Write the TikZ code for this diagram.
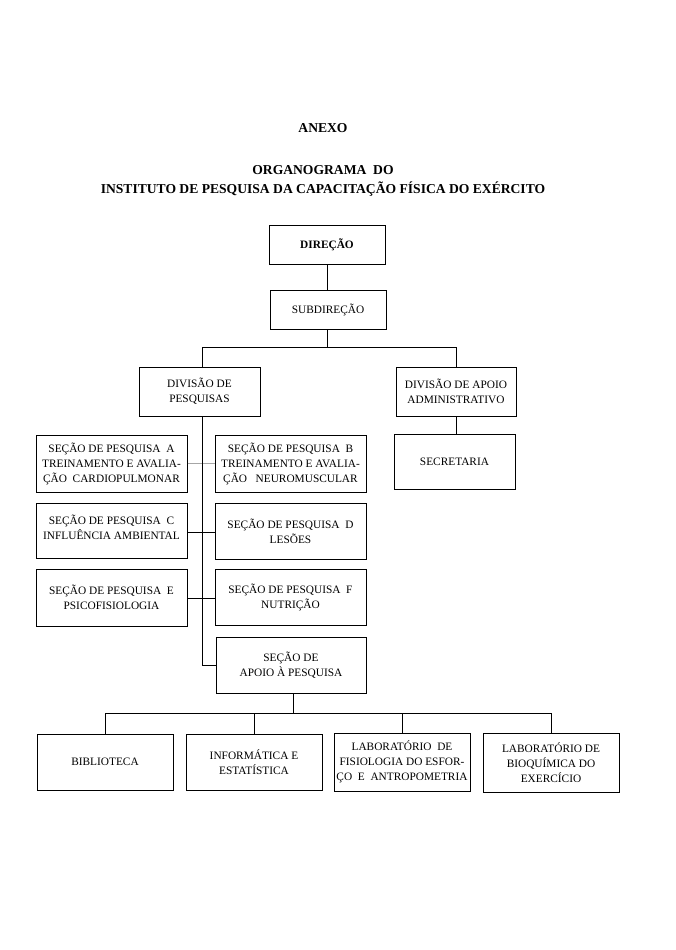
\documentclass[tikz,border=0pt]{standalone}
\usepackage{fontspec}
\setmainfont{Liberation Serif}
\begin{document}
\begin{tikzpicture}[x=1pt,y=-1pt,
  box/.style={draw, line width=1pt, inner sep=1pt, align=center,
    font=\fontsize{11.34}{15}\selectfont},
  txt/.style={inner sep=0pt, align=center, font=\fontsize{11.34}{15}\selectfont},
  ttl/.style={font=\bfseries\fontsize{13.6}{19}\selectfont, align=center, inner sep=0pt},
  conn/.style={line width=1pt}]
\useasboundingbox (0,0) rectangle (675,950);
\fill[white] (0,0) rectangle (675,950);

\node[ttl] (anexo) at (323,128) {ANEXO};
\node[ttl] (titulo) at (323,180.5) {ORGANOGRAMA\ \ DO\\INSTITUTO DE PESQUISA DA CAPACITAÇÃO FÍSICA DO EXÉRCITO};

\node[box, minimum width=116, minimum height=39, font=\bfseries\fontsize{11.34}{15}\selectfont] (dir) at (327,244.5) {DIREÇÃO};
\node[box, minimum width=116, minimum height=39] (sub) at (328,309.5) {SUBDIREÇÃO};
\node[box, minimum width=121, minimum height=49] (divp) at (199.5,391.5) {DIVISÃO DE\\PESQUISAS};
\node[box, minimum width=120, minimum height=49] (diva) at (456,391.5) {DIVISÃO DE APOIO\\ADMINISTRATIVO};
\node[box, minimum width=121, minimum height=55] (sec) at (454.5,461.5) {SECRETARIA};

\node[box, minimum width=151, minimum height=57] (A) at (111.5,463.5) {SEÇÃO DE PESQUISA\ \ A\\TREINAMENTO E AVALIA-\\ÇÃO\ \ CARDIOPULMONAR};
\node[box, minimum width=151, minimum height=57] (B) at (290.5,463.5) {SEÇÃO DE PESQUISA\ \ B\\TREINAMENTO E AVALIA-\\ÇÃO\ \ \ NEUROMUSCULAR};
\node[box, minimum width=151, minimum height=55] (C) at (111.5,530.5) {};
\node[txt] (Ct) at (111.5,527.5) {SEÇÃO DE PESQUISA\ \ C\\INFLUÊNCIA AMBIENTAL};
\node[box, minimum width=151, minimum height=56] (D) at (290.5,531) {SEÇÃO DE PESQUISA\ \ D\\LESÕES};
\node[box, minimum width=151, minimum height=57] (E) at (111.5,597.5) {SEÇÃO DE PESQUISA\ \ E\\PSICOFISIOLOGIA};
\node[box, minimum width=151, minimum height=56] (F) at (290.5,597) {SEÇÃO DE PESQUISA\ \ F\\NUTRIÇÃO};
\node[box, minimum width=150, minimum height=56] (apo) at (291,665) {SEÇÃO DE\\APOIO À PESQUISA};

\node[box, minimum width=136, minimum height=56] (bib) at (105,762) {BIBLIOTECA};
\node[box, minimum width=136, minimum height=56] (inf) at (254,762) {INFORMÁTICA E\\ESTATÍSTICA};
\node[box, minimum width=136, minimum height=58] (lab) at (402,762) {LABORATÓRIO\ \ DE\\FISIOLOGIA DO ESFOR-\\ÇO\ \ E\ \ ANTROPOMETRIA};
\node[box, minimum width=136, minimum height=59] (bio) at (551,762.5) {LABORATÓRIO DE\\BIOQUÍMICA DO\\EXERCÍCIO};

% connectors
\coordinate (j1) at (327,347);
\coordinate (sp) at (202,665);
\coordinate (j2) at (293,713);

\draw[conn] (dir.south) -- (dir.south |- sub.north);
\draw[conn] (sub.south -| j1) -- (j1);
\draw[conn] (divp.north -| sp) -- (sp |- j1) -- (diva.north |- j1) -- (diva.north);
\draw[conn] (diva.south) -- (sec.north -| diva.south);
\draw[conn] (divp.south -| sp) -- (sp) -- (apo.west);

\draw[line width=1.7pt, black!35] (A.east) -- (B.west);
\draw[conn] (sp |- A.north) -- (sp |- A.south);
\draw[conn] (C.east |- 0,532) -- (D.west |- 0,532);
\draw[conn] (E.east |- 0,598) -- (F.west |- 0,598);

\draw[conn] (apo.south -| j2) -- (j2);
\draw[conn] (bib.north |- j2) -- (bio.north |- j2);
\draw[conn] (bib.north |- j2) -- (bib.north);
\draw[conn] (inf.north |- j2) -- (inf.north);
\draw[conn] (lab.north |- j2) -- (lab.north);
\draw[conn] (bio.north |- j2) -- (bio.north);
\end{tikzpicture}
\end{document}
